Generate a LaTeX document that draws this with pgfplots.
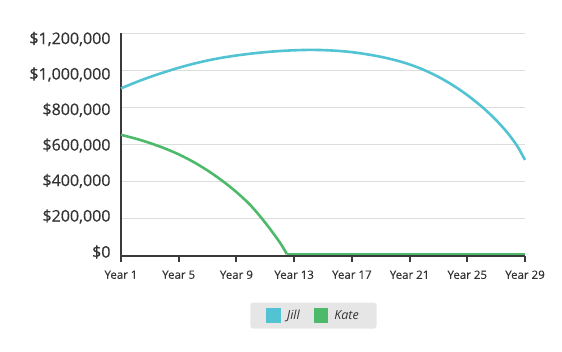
\documentclass[border=0pt]{standalone}
\usepackage{pgfplots}
\pgfplotsset{compat=1.18}
\usepackage{fontspec}
\setmainfont{Open Sans}
\newfontfamily\labfont{Open Sans}[FakeBold=0.6]
\newfontfamily\xlabfont{Open Sans}[FakeBold=0.3]
\definecolor{jill}{HTML}{52C3D3}
\definecolor{kate}{HTML}{4DB96A}
\definecolor{axisgray}{HTML}{3A3A3A}
\definecolor{txt}{HTML}{333333}
\definecolor{gridc}{HTML}{DDDDDD}
\definecolor{legfill}{HTML}{E6E6E6}
\begin{document}
\begin{tikzpicture}
\path[use as bounding box] (0pt,0pt) rectangle (562pt,-351pt);
\begin{axis}[
  at={(121pt,-256pt)}, anchor=south west,
  scale only axis, width=404pt, height=223pt,
  xmin=1, xmax=29, ymin=0, ymax=1200,
  clip=false,
  axis x line=bottom, axis y line=left,
  axis line style={-, draw=axisgray, line width=1.9pt},
  xtick={1,5,9,13,17,21,25,29},
  xticklabels={Year 1,Year 5,Year 9,Year 13,Year 17,Year 21,Year 25,Year 29},
  ytick={0,200,400,600,800,1000,1200},
  yticklabels={{\$0},{\$200,000},{\$400,000},{\$600,000},{\$800,000},{\$1,000,000},{\$1,200,000}},
  tick align=outside,
  major tick length=6pt,
  xtick style={draw=axisgray, line width=1.9pt},
  ytick style={draw=none},
  ymajorgrids,
  grid style={draw=gridc, line width=1pt},
  yticklabel style={font=\labfont\fontsize{16}{18}\selectfont, text=txt, xshift=-1pt,
    yshift={4pt-1.667pt*\ticknum}},
  xticklabel style={font=\xlabfont\fontsize{11.5}{14}\selectfont, text=txt, yshift=-5pt},
  legend columns=2,
  legend style={at={(0.4765,-0.267)}, anchor=center, fill=legfill, draw=none,
    rounded corners=3pt, font=\fontsize{12.5}{14}\selectfont\itshape, text=txt,
    inner xsep=16pt, inner ysep=5.5pt,
    /tikz/every even column/.append style={column sep=12pt}},
]
\addplot[color=jill, line width=2.6pt, smooth,
  legend image code/.code={\fill[jill, sharp corners] (0pt,-6pt) rectangle (12pt,6pt); \path (16pt,0pt);}]
  coordinates {
  (1,902) (2,934) (3,963) (4,989) (5,1013) (6,1034) (7,1052) (8,1067)
  (9,1079) (10,1089) (11,1097) (12,1103) (13,1107) (14,1109) (15,1108)
  (16,1104) (17,1097) (18,1086) (19,1072) (20,1054) (21,1031) (22,1001)
  (23,964) (24,919) (25,866) (26,804) (26.5,769) (27,731) (27.5,689)
  (28,642) (28.5,587) (29,517)
  };
\addlegendentry{Jill}
\addplot[color=kate, line width=2.6pt, smooth,
  legend image code/.code={\fill[kate, sharp corners] (0pt,-6pt) rectangle (12pt,6pt); \path (16pt,0pt);}]
  coordinates {
  (1,652) (2,632) (3,608) (4,580) (5,547) (6,507) (7,460) (8,406)
  (9,344) (10,271) (11,179) (12,74) (12.5,10)
  };
\addlegendentry{Kate}
\addplot[color=kate, line width=2.6pt, forget plot]
  coordinates {
  (12.5,10) (13,10) (17,10) (21,10) (25,10) (29,10)
  };
\end{axis}
\end{tikzpicture}
\end{document}
